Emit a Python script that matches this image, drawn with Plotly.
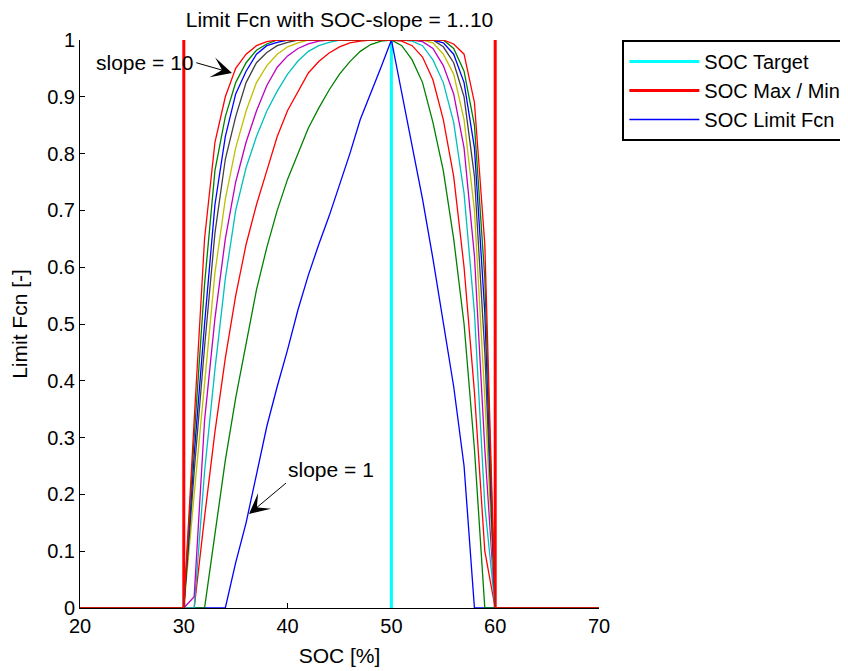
import plotly.graph_objects as go

# ---------------- data ----------------
soc = [20, 30, 31, 32, 33, 34, 35, 36, 37, 38, 39, 40, 41, 42, 43, 44, 45,
       46, 47, 48, 49, 50, 51, 52, 53, 54, 55, 56, 57, 58, 59, 60, 70]

soc_min = 30
soc_max = 60
soc_target = 50

slope_1 = [0, 0, 0, 0, 0, 0, 0.08, 0.15, 0.235, 0.32, 0.39, 0.455, 0.525, 0.586, 0.64, 0.69, 0.745,
           0.80, 0.86, 0.905, 0.952, 1.0, 0.905, 0.815, 0.72, 0.615, 0.50, 0.39, 0.25, 0, 0, 0, 0]
slope_2 = [0, 0, 0, 0, 0.13, 0.26, 0.37, 0.465, 0.56, 0.635, 0.70, 0.755, 0.80, 0.845, 0.88, 0.912, 0.94,
           0.962, 0.98, 0.992, 0.998, 1.0, 0.99, 0.965, 0.925, 0.855, 0.77, 0.65, 0.50, 0.28, 0, 0, 0]
slope_3 = [0, 0, 0, 0.16, 0.31, 0.44, 0.55, 0.64, 0.71, 0.77, 0.83, 0.876, 0.91, 0.942, 0.962, 0.977, 0.988,
           0.995, 0.998, 1.0, 1.0, 1.0, 0.998, 0.99, 0.97, 0.93, 0.86, 0.76, 0.60, 0.38, 0.10, 0, 0]
slope_4 = [0, 0, 0, 0.24, 0.42, 0.58, 0.70, 0.775, 0.83, 0.875, 0.91, 0.94, 0.963, 0.98, 0.99, 0.996, 1.0,
           1.0, 1.0, 1.0, 1.0, 1.0, 1.0, 0.998, 0.99, 0.965, 0.925, 0.855, 0.73, 0.52, 0.18, 0, 0]
slope_5 = [0, 0, 0.02, 0.33, 0.51, 0.65, 0.75, 0.82, 0.875, 0.92, 0.952, 0.972, 0.985, 0.993, 0.998, 1.0, 1.0,
           1.0, 1.0, 1.0, 1.0, 1.0, 1.0, 1.0, 0.997, 0.985, 0.955, 0.905, 0.81, 0.62, 0.28, 0, 0]
slope_6 = [0, 0, 0.20, 0.40, 0.59, 0.72, 0.81, 0.875, 0.925, 0.955, 0.975, 0.988, 0.995, 1.0, 1.0, 1.0, 1.0,
           1.0, 1.0, 1.0, 1.0, 1.0, 1.0, 1.0, 1.0, 0.995, 0.975, 0.94, 0.86, 0.70, 0.37, 0, 0]
slope_7 = [0, 0, 0.24, 0.46, 0.66, 0.79, 0.865, 0.925, 0.96, 0.978, 0.99, 0.996, 1.0, 1.0, 1.0, 1.0, 1.0,
           1.0, 1.0, 1.0, 1.0, 1.0, 1.0, 1.0, 1.0, 1.0, 0.988, 0.96, 0.90, 0.76, 0.45, 0, 0]
slope_8 = [0, 0, 0.27, 0.50, 0.71, 0.83, 0.905, 0.945, 0.975, 0.99, 0.996, 1.0, 1.0, 1.0, 1.0, 1.0, 1.0,
           1.0, 1.0, 1.0, 1.0, 1.0, 1.0, 1.0, 1.0, 1.0, 0.995, 0.975, 0.925, 0.81, 0.52, 0, 0]
slope_9 = [0, 0, 0.30, 0.57, 0.77, 0.865, 0.925, 0.96, 0.982, 0.993, 1.0, 1.0, 1.0, 1.0, 1.0, 1.0, 1.0,
           1.0, 1.0, 1.0, 1.0, 1.0, 1.0, 1.0, 1.0, 1.0, 1.0, 0.985, 0.945, 0.85, 0.58, 0, 0]
slope_10 = [0, 0, 0.33, 0.65, 0.82, 0.90, 0.95, 0.975, 0.99, 0.997, 1.0, 1.0, 1.0, 1.0, 1.0, 1.0, 1.0,
            1.0, 1.0, 1.0, 1.0, 1.0, 1.0, 1.0, 1.0, 1.0, 1.0, 0.993, 0.975, 0.89, 0.64, 0, 0]

curves = [slope_1, slope_2, slope_3, slope_4, slope_5,
          slope_6, slope_7, slope_8, slope_9, slope_10]
curve_colors = ["#0000FF", "#008000", "#FF0000", "#00BFBF", "#BF00BF",
                "#BFBF00", "#404040", "#0000FF", "#008000", "#FF0000"]

x_ticks = [20, 30, 40, 50, 60, 70]
y_ticks = [0, 0.1, 0.2, 0.3, 0.4, 0.5, 0.6, 0.7, 0.8, 0.9, 1]
y_tick_text = ["0", "0.1", "0.2", "0.3", "0.4", "0.5", "0.6", "0.7", "0.8", "0.9", "1"]

FONT = "Liberation Sans, Arial, sans-serif"
FS = 20

fig = go.Figure()

fig.add_trace(go.Scatter(
    x=[soc_target, soc_target], y=[0, 1], mode="lines",
    line=dict(color="#00FFFF", width=3), name="SOC Target", legendgroup="a"))
fig.add_trace(go.Scatter(
    x=[soc_min, soc_min, None, soc_max, soc_max], y=[0, 1, None, 0, 1], mode="lines",
    line=dict(color="#FF0000", width=3), name="SOC Max / Min", legendgroup="b"))

for i, (yv, col) in enumerate(zip(curves, curve_colors)):
    fig.add_trace(go.Scatter(
        x=soc, y=yv, mode="lines", line=dict(color=col, width=1.3),
        name="SOC Limit Fcn", legendgroup="c", showlegend=(i == 0)))

fig.add_annotation(x=34.64, y=0.942, ax=31.2, ay=0.96, xref="x", yref="y",
                   axref="x", ayref="y", text="slope = 10", showarrow=True,
                   arrowhead=3, arrowsize=3.4, arrowwidth=1, arrowcolor="black",
                   xanchor="right", yanchor="middle",
                   font=dict(family=FONT, size=21, color="black"))
fig.add_annotation(x=36.28, y=0.1655, ax=39.85, ay=0.22, xref="x", yref="y",
                   axref="x", ayref="y", text="slope = 1", showarrow=True,
                   arrowhead=3, arrowsize=3.4, arrowwidth=1, arrowcolor="black",
                   xanchor="left", yanchor="bottom",
                   font=dict(family=FONT, size=21, color="black"))

fig.update_layout(
    width=840, height=663,
    margin=dict(l=72, r=249, t=32, b=63, autoexpand=False),
    paper_bgcolor="white", plot_bgcolor="white",
    font=dict(family=FONT, size=FS, color="black"),
    title=dict(text="Limit Fcn with SOC-slope = 1..10", x=0.5, xanchor="center",
               xref="paper", y=0.982, yref="container", yanchor="middle",
               font=dict(family=FONT, size=21, color="black")),
    showlegend=True,
    legend=dict(x=1.045, y=1.0, xanchor="left", yanchor="top",
                bordercolor="black", borderwidth=2, bgcolor="white",
                font=dict(family=FONT, size=20, color="black"),
                tracegroupgap=0, itemwidth=70),
)

fig.update_xaxes(range=[20, 70], tickvals=x_ticks, ticks="inside", ticklen=5,
                 tickcolor="black", showline=True, linecolor="black", linewidth=1,
                 showgrid=False, zeroline=False, mirror=False, layer="below traces",
                 tickfont=dict(family=FONT, size=FS),
                 title=dict(text="SOC [%]", font=dict(family=FONT, size=21), standoff=12))
fig.update_yaxes(range=[0, 1], tickvals=y_ticks, ticktext=y_tick_text, ticks="inside",
                 ticklen=5, tickcolor="black", showline=True, linecolor="black",
                 linewidth=1, showgrid=False, zeroline=False, mirror=False,
                 layer="below traces",
                 tickfont=dict(family=FONT, size=FS),
                 title=dict(text="Limit Fcn [-]", font=dict(family=FONT, size=21), standoff=14))

fig.write_html("out.html")
